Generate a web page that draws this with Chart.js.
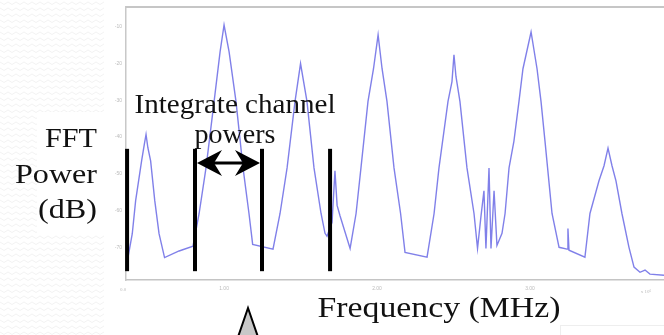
<!DOCTYPE html>
<html>
<head>
<meta charset="utf-8">
<script src="https://cdn.jsdelivr.net/npm/chart.js@4.4.1/dist/chart.umd.min.js"></script>
<style>
  html, body { margin: 0; padding: 0; background: #fff; overflow: hidden; }
  #wrap { width: 664px; height: 335px; }
</style>
</head>
<body>
<div id="wrap"><canvas id="fft" width="664" height="335"></canvas></div>
<script>
// FFT spectrum trace, frequency in MHz and power in dB
const freq = [
  0.365, 0.400, 0.422, 0.461, 0.479, 0.490, 0.502, 0.520, 0.547, 0.575, 0.611, 0.706, 0.797,
  0.837, 0.882, 0.935, 0.974, 1.000, 1.033, 1.078, 1.124, 1.163, 1.187, 1.320,
  1.366, 1.412, 1.464, 1.500, 1.542, 1.588, 1.634, 1.660, 1.673, 1.706, 1.725, 1.739, 1.758, 1.824,
  1.863, 1.895, 1.941, 1.977, 2.007, 2.033, 2.065, 2.111, 2.154, 2.183, 2.327,
  2.373, 2.405, 2.464, 2.490, 2.503, 2.516, 2.542, 2.588, 2.634, 2.657,
  2.680, 2.699, 2.712, 2.732, 2.745, 2.765, 2.784, 2.817,
  2.837, 2.863, 2.895, 2.928, 2.954, 3.007, 3.046, 3.072, 3.098, 3.144, 3.190,
  3.242, 3.248, 3.255, 3.359,
  3.392, 3.451, 3.484, 3.510, 3.536, 3.562, 3.601, 3.647, 3.680, 3.719, 3.752, 3.784, 3.876
];
const power = [
  -74.4, -66.3, -57.3, -46.5, -41.9, -39.3, -42.9, -46.5, -57.3, -66.3, -72.8, -71.0, -69.7,
  -60.8, -48.4, -30.3, -16.8, -9.5, -16.8, -30.3, -48.4, -60.8, -69.2, -70.5,
  -60.8, -48.4, -30.3, -20.0, -30.3, -48.4, -60.8, -66.2, -67.0, -63.2, -49.2, -58.6, -61.4, -70.3,
  -60.8, -48.4, -30.3, -21.4, -12.2, -21.4, -30.3, -48.4, -60.8, -71.4, -72.7,
  -60.8, -48.4, -30.3, -24.9, -17.6, -23.5, -30.3, -48.4, -60.8, -70.3,
  -61.4, -54.6, -70.3, -48.4, -70.3, -54.6, -69.5, -66.2,
  -60.8, -48.4, -41.1, -30.3, -21.4, -11.4, -21.4, -30.3, -41.1, -60.8, -70.0,
  -70.5, -64.9, -70.8, -72.7,
  -60.8, -51.9, -47.8, -43.0, -47.8, -51.9, -60.8, -70.0, -75.4, -76.8, -76.2, -77.3, -77.6
];

const yTicks = [-10, -20, -30, -40, -50, -60, -70];
const xTicks = [1, 2, 3];
const xTickLabels = ["1.00", "2.00", "3.00"];

// channel boundaries drawn as black bars (MHz)
const channelEdges = [0.366, 0.81, 1.248, 1.693];

const SERIF = '"Liberation Serif", "DejaVu Serif", serif';

function stretchText(ctx, txt, x, y, size, width, align) {
  ctx.font = size + "px " + SERIF;
  const w = ctx.measureText(txt).width;
  let left = x;
  if (align === "center") left = x - width / 2;
  if (align === "right") left = x - width;
  ctx.save();
  ctx.translate(left, y);
  ctx.scale(width / w, 1);
  ctx.textAlign = "left";
  ctx.textBaseline = "alphabetic";
  ctx.fillText(txt, 0, 0);
  ctx.restore();
}

function arrowHead(ctx, tipX, y, dir) {
  ctx.beginPath();
  ctx.moveTo(tipX, y);
  ctx.lineTo(tipX + dir * 25, y - 13);
  ctx.lineTo(tipX + dir * 17, y);
  ctx.lineTo(tipX + dir * 25, y + 13);
  ctx.closePath();
  ctx.fill();
}

const backdrop = {
  id: "backdrop",
  beforeDraw(chart) {
    const ctx = chart.ctx;
    ctx.save();
    ctx.fillStyle = "#fff";
    ctx.fillRect(0, 0, chart.width, chart.height);
    // faint zigzag texture at the slide's left edge
    ctx.strokeStyle = "#f3f3f3";
    ctx.lineWidth = 1;
    for (let y = 2; y < chart.height; y += 6) {
      ctx.beginPath();
      for (let x = 0; x <= 104; x += 4) {
        const yy = y + ((x / 4) % 2 === 0 ? 0 : 2.5);
        if (x === 0) ctx.moveTo(x, yy); else ctx.lineTo(x, yy);
      }
      ctx.stroke();
    }
    ctx.fillStyle = "#fff";
    ctx.fillRect(37, 112, 70, 122);
    ctx.restore();
  }
};

const overlay = {
  id: "overlay",
  afterDraw(chart) {
    const ctx = chart.ctx;
    const xs = chart.scales.x;
    const ys = chart.scales.y;
    const area = chart.chartArea;
    ctx.save();

    // top frame line
    ctx.strokeStyle = "#c6c6c6";
    ctx.lineWidth = 2;
    ctx.beginPath();
    ctx.moveTo(area.left, area.top);
    ctx.lineTo(area.right, area.top);
    ctx.stroke();

    // channel boundary bars
    ctx.strokeStyle = "#000";
    ctx.lineWidth = 4;
    const barTop = ys.getPixelForValue(-43.2);
    const barBot = ys.getPixelForValue(-76.5);
    channelEdges.forEach(f => {
      const px = xs.getPixelForValue(f);
      ctx.beginPath();
      ctx.moveTo(px, barTop);
      ctx.lineTo(px, barBot);
      ctx.stroke();
    });

    // double arrow between 2nd and 3rd bar
    const a0 = xs.getPixelForValue(channelEdges[1]) + 2;
    const a1 = xs.getPixelForValue(channelEdges[2]) - 2;
    const ay = 163;
    ctx.lineWidth = 3;
    ctx.beginPath();
    ctx.moveTo(a0 + 15, ay);
    ctx.lineTo(a1 - 15, ay);
    ctx.stroke();
    ctx.fillStyle = "#000";
    arrowHead(ctx, a0, ay, 1);
    arrowHead(ctx, a1, ay, -1);

    // text
    ctx.fillStyle = "#111";
    stretchText(ctx, "Integrate channel", 235, 113, 27, 201, "center");
    stretchText(ctx, "powers", 235, 143, 27, 81, "center");
    stretchText(ctx, "FFT", 97, 147, 28, 52, "right");
    stretchText(ctx, "Power", 97, 183, 28, 82, "right");
    stretchText(ctx, "(dB)", 97, 218, 28, 59, "right");
    stretchText(ctx, "Frequency (MHz)", 439, 317, 29, 243, "center");

    // tiny exponent label at the end of the x axis
    ctx.fillStyle = "#bbb";
    ctx.font = "5px " + SERIF;
    ctx.textAlign = "center";
    ctx.fillText("x 10\u2076", 646, 293);
    ctx.fillText("0.0", 123, 291);

    // grey block arrow pointing up
    ctx.fillStyle = "#c8c8c8";
    ctx.strokeStyle = "#000";
    ctx.lineWidth = 2;
    ctx.beginPath();
    ctx.moveTo(248, 308);
    ctx.lineTo(238, 337);
    ctx.lineTo(258, 337);
    ctx.closePath();
    ctx.fill();
    ctx.stroke();

    // faint box bottom right
    ctx.strokeStyle = "#eeeeee";
    ctx.lineWidth = 1;
    ctx.strokeRect(560.5, 325.5, 110, 20);
    ctx.restore();
  }
};

new Chart(document.getElementById("fft"), {
  type: "line",
  data: {
    datasets: [{
      data: freq.map((f, i) => ({ x: f, y: power[i] })),
      borderColor: "rgba(85, 85, 225, 0.75)",
      borderWidth: 1.4,
      pointRadius: 0,
      tension: 0,
      fill: false
    }]
  },
  options: {
    responsive: false,
    animation: false,
    devicePixelRatio: 1,
    layout: { padding: { top: 5, left: 0, right: 0, bottom: 0 } },
    plugins: { legend: { display: false }, tooltip: { enabled: false } },
    scales: {
      x: {
        type: "linear",
        min: 0.359,
        max: 3.876,
        afterFit: s => { s.height = 55; },
        afterBuildTicks: s => { s.ticks = xTicks.map(v => ({ value: v })); },
        grid: { display: false, drawTicks: false },
        border: { display: true, color: "#c4c4c4", width: 1.5 },
        ticks: {
          padding: 6,
          color: "#bbb",
          font: { size: 5 },
          maxRotation: 0,
          callback: (v, i) => xTickLabels[i]
        }
      },
      y: {
        min: -78.9,
        max: -4.6,
        afterFit: s => { s.width = 126; },
        afterBuildTicks: s => { s.ticks = yTicks.map(v => ({ value: v })); },
        grid: { display: false, drawTicks: false },
        border: { display: true, color: "#c8c8c8", width: 1.5 },
        ticks: {
          padding: 4,
          color: "#bbb",
          font: { size: 5 },
          callback: v => String(v)
        }
      }
    }
  },
  plugins: [backdrop, overlay]
});
</script>
</body>
</html>
